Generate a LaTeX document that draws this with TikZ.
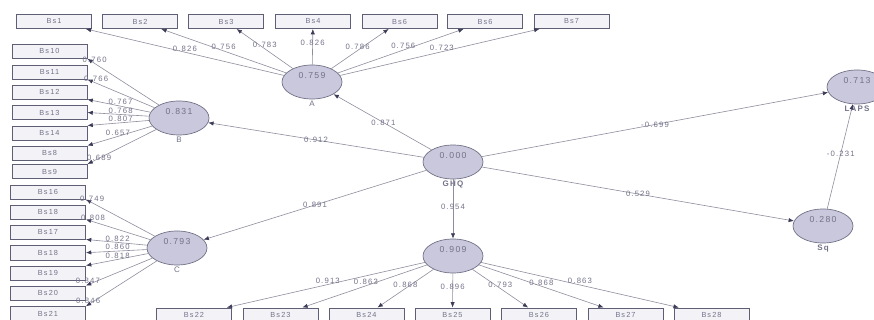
\documentclass[tikz,border=0pt]{standalone}
\usepackage{fontspec}
\setmainfont{Liberation Sans}
\newfontfamily\plsfont[LetterSpace=15]{Liberation Sans}
\usepackage{tikz}
\usetikzlibrary{arrows.meta,shapes.geometric}
\definecolor{latfill}{HTML}{C9C8DC}
\definecolor{latline}{HTML}{6E6E84}
\definecolor{boxfill}{HTML}{F3F3F7}
\definecolor{boxline}{HTML}{5E5E74}
\definecolor{pathline}{HTML}{8E8E9E}
\definecolor{tipcol}{HTML}{3C3C58}
\definecolor{txtcol}{HTML}{72728A}
\begin{document}
\begin{tikzpicture}[x=0.75pt,y=-0.75pt,
ind node/.style={rectangle,draw=boxline,fill=boxfill,line width=.4pt,minimum width=56.5pt,minimum height=10.8pt,inner sep=0pt,font=\plsfont\fontsize{5.5}{6}\selectfont,text=txtcol},
lat node/.style={ellipse,draw=latline,fill=latfill,line width=.5pt,minimum width=45pt,minimum height=25.5pt,inner sep=0pt,text height=2pt,text depth=7.7pt,font=\plsfont\fontsize{6.5}{7}\selectfont,text=txtcol,label distance=0pt},
lat label/.style={font=\plsfont\fontsize{6}{7}\selectfont,text=txtcol,inner sep=1pt},
load/.style={draw=pathline,line width=.45pt,-{Latex[length=4pt,width=3.2pt,color=tipcol]}},
lab/.style={above,inner sep=.6pt,font=\plsfont\fontsize{5.8}{6}\selectfont,text=txtcol}]
\useasboundingbox (0,0) rectangle (874,320);
\begin{scope}[every label/.style={lat label}]
\node[lat node,label=below:A] (A) at (312,82) {0.759};
\node[lat node,label=below:B] (B) at (179,118) {0.831};
\node[lat node,label=below:C] (C) at (177,248) {0.793};
\node[lat node,label={below:\bfseries GHQ}] (GHQ) at (453,162) {0.000};
\node[lat node] (D) at (453,256) {0.909};
\node[lat node,label={below:\bfseries LAPS}] (LAPS) at (857,87) {0.713};
\node[lat node,label={below:\bfseries Sq}] (Sq) at (823,226) {0.280};
\end{scope}
\begin{scope}[every node/.style={ind node}]
\node (a1) at (54,21.5) {Bs1};
\node (a2) at (140,21.5) {Bs2};
\node (a3) at (226,21.5) {Bs3};
\node (a4) at (313,21.5) {Bs4};
\node (a5) at (399.5,21.5) {Bs6};
\node (a6) at (485,21.5) {Bs6};
\node (a7) at (571.5,21.5) {Bs7};
\node (b1) at (49.5,51.3) {Bs10};
\node (b2) at (49.5,72) {Bs11};
\node (b3) at (49.5,92) {Bs12};
\node (b4) at (49.5,112.5) {Bs13};
\node (b5) at (49.5,133) {Bs14};
\node (b6) at (49.5,153) {Bs8};
\node (b7) at (49.5,171.5) {Bs9};
\node (c1) at (48,192) {Bs16};
\node (c2) at (48,212) {Bs18};
\node (c3) at (48,232) {Bs17};
\node (c4) at (48,252.7) {Bs18};
\node (c5) at (48,273) {Bs19};
\node (c6) at (48,293) {Bs20};
\node (c7) at (48,313.7) {Bs21};
\node (d1) at (194,315) {Bs22};
\node (d2) at (280.5,315) {Bs23};
\node (d3) at (366.5,315) {Bs24};
\node (d4) at (452.5,315) {Bs25};
\node (d5) at (539,315) {Bs26};
\node (d6) at (625.5,315) {Bs27};
\node (d7) at (711.5,315) {Bs28};
\end{scope}
\begin{scope}[load]
\draw (A) edge node[lab]{0.826} (a1);
\draw (A) edge node[lab]{0.756} (a2);
\draw (A) edge node[lab]{0.783} (a3);
\draw (A) edge node[lab,anchor=center,pos=.6]{0.826} (a4);
\draw (A) edge node[lab,pos=.46]{0.786} (a5);
\draw (A) edge node[lab,pos=.52]{0.756} (a6);
\draw (A) edge node[lab,pos=.51]{0.723} (a7);
\draw (B) edge node[lab,pos=.9]{0.760} (b1.south east);
\draw (B) edge node[lab,pos=.87]{0.766} (b2.south east);
\draw (B) edge node[lab,pos=.475]{0.767} (b3.south east);
\draw (B) edge node[lab,pos=.46]{0.768} (b4.east);
\draw (B) edge node[lab,pos=.46]{0.807} (b5.north east);
\draw (B) edge node[lab,pos=.53]{0.657} (b6.north east);
\draw (B) edge node[lab,anchor=center,pos=.83]{0.689} (b7.north east);
\draw (C) edge node[lab,pos=.91]{0.749} (c1.south east);
\draw (C) edge node[lab,pos=.89]{0.808} (c2.south east);
\draw (C) edge node[lab,pos=.48]{0.822} (c3.south east);
\draw (C) edge node[lab,pos=.48]{0.860} (c4.east);
\draw (C) edge node[lab,pos=.49]{0.818} (c5.north east);
\draw (C) edge node[lab,pos=.97]{0.847} (c6.north east);
\draw (C) edge node[lab,pos=.97]{0.846} (c7.north east);
\draw (D) edge node[lab,pos=.49]{0.913} (d1);
\draw (D) edge node[lab,pos=.49]{0.863} (d2);
\draw (D) edge node[lab]{0.868} (d3);
\draw (D) edge node[lab,anchor=center,pos=.4]{0.896} (d4);
\draw (D) edge node[lab]{0.793} (d5);
\draw (D) edge node[lab]{0.868} (d6);
\draw (D) edge node[lab]{0.863} (d7);
\draw (GHQ) edge node[lab,anchor=center,pos=.49]{0.871} (A);
\draw (GHQ) edge node[lab,anchor=center]{0.912} (B);
\draw (GHQ) edge node[lab,anchor=center]{0.891} (C);
\draw (GHQ) edge node[lab,anchor=center,pos=.47]{0.954} (D);
\draw (GHQ) edge node[lab,anchor=center]{-0.699} (LAPS);
\draw (GHQ) edge node[lab,anchor=center]{0.529} (Sq);
\draw (Sq) edge node[lab,anchor=center,pos=.53]{-0.231} (LAPS);
\end{scope}
\end{tikzpicture}
\end{document}
